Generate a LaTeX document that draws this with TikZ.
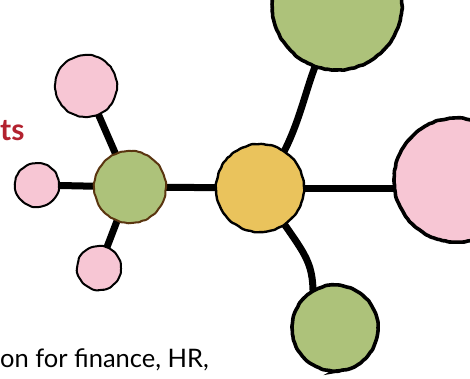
\documentclass[tikz,border=0pt]{standalone}
\usepackage{fontspec}
\setmainfont{Lato}
\usetikzlibrary{decorations.pathmorphing,backgrounds}
\definecolor{petal}{HTML}{F7C6D4}
\definecolor{leaf}{HTML}{ADC27A}
\definecolor{sun}{HTML}{EAC35C}
\definecolor{bark}{HTML}{5A3510}
\definecolor{brick}{HTML}{B3222F}
\tikzset{
  x=1pt, y=-1pt,
  blob/.style={circle, inner sep=0pt, draw=black, line width=#1,
    decorate, decoration={random steps, segment length=3pt, amplitude=0.5pt},
    rounded corners=1pt},
  blob/.default=2.2pt,
  stem/.style={line width=7pt, line cap=round}
}
\pgfmathsetseed{7}
\begin{document}
\begin{tikzpicture}
\useasboundingbox (0,0) rectangle (470,378);

% the hub and its satellites
\node[blob=2.4pt, fill=sun, minimum size=88pt] (hub) at (260,188) {};
\node[blob=2pt, draw=bark, fill=leaf, minimum size=72pt] (inner) at (130,187) {};
\node[blob=2pt, fill=petal, minimum size=62pt] (ptop) at (86,86) {};
\node[blob=2pt, fill=petal, minimum size=44pt] (pleft) at (37,185) {};
\node[blob=2pt, fill=petal, minimum size=44pt] (pbot) at (99,268) {};
\node[blob=3.6pt, fill=leaf, minimum size=130pt] (gtop) at (337,5) {};
\node[blob=3.6pt, fill=petal, minimum size=124pt] (pright) at (456,180) {};
\node[blob=3.6pt, fill=leaf, minimum size=86pt] (gbot) at (335,328) {};

% connectors behind the circles
\begin{scope}[on background layer]
  \draw[stem] (pleft.center) -- (inner.center);
  \draw[stem] (ptop.center) -- (inner.center);
  \draw[stem] (pbot.center) -- (inner.center);
  \draw[stem] (inner.center) -- (hub.center);
  \draw[stem] (hub.center) -- (hub.center -| pright.center);
  \draw[stem] (hub.center) .. controls (292,150) and (300,110) .. (312,75) -- (gtop.center);
  \draw[stem] (hub.center) .. controls (300,250) and (312,255) .. (313,290) -- (gbot.center);
\end{scope}

% text fragments
\node[anchor=base west, inner sep=0pt, text=brick, font=\fontsize{30}{34}\selectfont\bfseries] (head) at (0,140) {ts};
\node[anchor=base west, inner sep=0pt, font=\fontsize{25.5}{30}\selectfont] (body) at (0,367) {on for finance, HR,};
\end{tikzpicture}
\end{document}
